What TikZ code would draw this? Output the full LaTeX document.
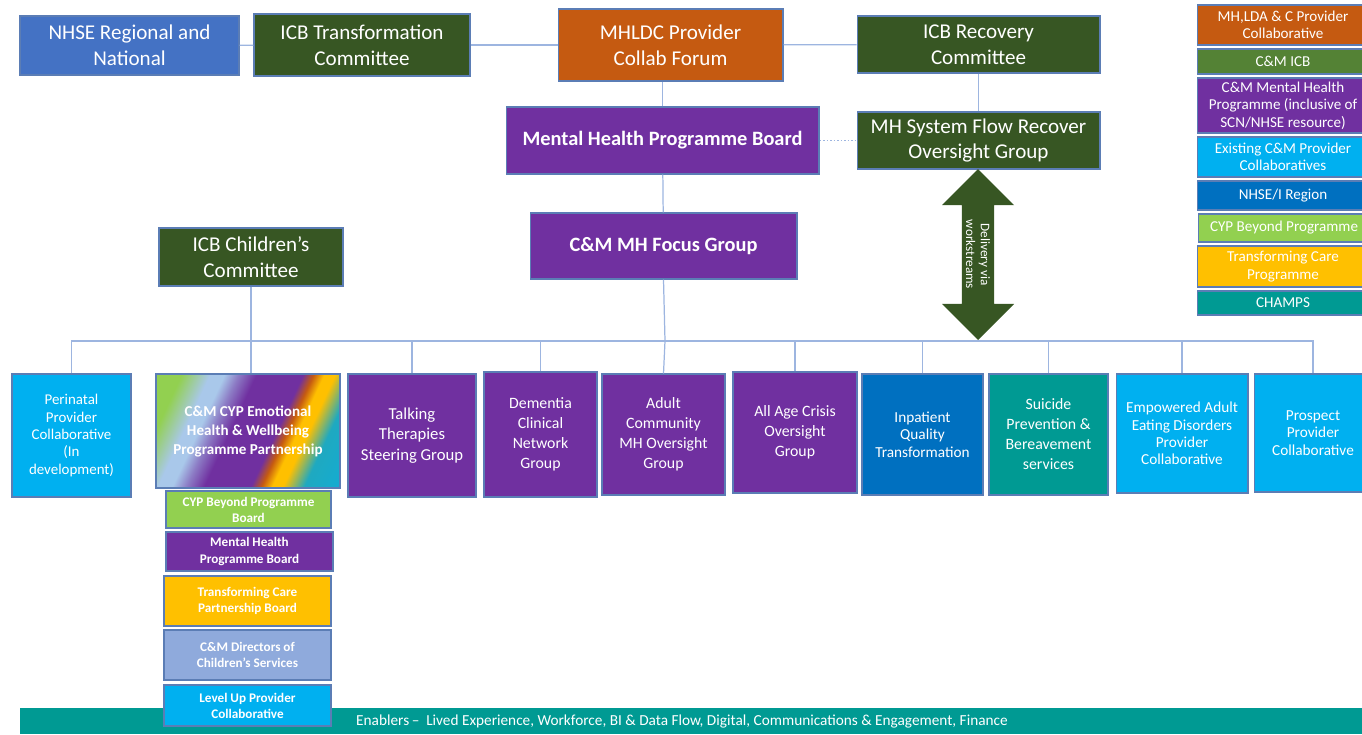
\documentclass[tikz,border=0pt]{standalone}
\usepackage{fontspec}
\setmainfont{Carlito}
\usetikzlibrary{shapes.arrows, positioning}

\definecolor{nhseblue}{HTML}{4472C4}
\definecolor{icbgreen}{HTML}{375623}
\definecolor{collaborange}{HTML}{C55A11}
\definecolor{mhpurple}{HTML}{7030A0}
\definecolor{provblue}{HTML}{00B0F0}
\definecolor{regionblue}{HTML}{0070C0}
\definecolor{champsteal}{HTML}{009A93}
\definecolor{cmicbgreen}{HTML}{548235}
\definecolor{beyondgreen}{HTML}{92D050}
\definecolor{careyellow}{HTML}{FFC000}
\definecolor{dirblue}{HTML}{8FAADC}
\definecolor{paleblue}{HTML}{A9C8EA}
\definecolor{rainbowteal}{HTML}{1FA9C0}
\definecolor{linkblue}{HTML}{9DB5E0}
\definecolor{boxline}{HTML}{5B7DB5}

% rainbow fill of the children and young people partnership
\pgfdeclarehorizontalshading{cyprainbow}{100bp}{
  color(0bp)=(beyondgreen); color(24bp)=(beyondgreen);
  color(32bp)=(paleblue); color(36bp)=(paleblue);
  color(40bp)=(paleblue!50!mhpurple); color(45bp)=(mhpurple);
  color(58bp)=(mhpurple); color(61bp)=(collaborange);
  color(64bp)=(careyellow); color(67bp)=(careyellow);
  color(73bp)=(rainbowteal); color(100bp)=(provblue)}

\begin{document}
\begin{tikzpicture}[x=0.02cm, y=-0.02cm,
    % Node styles
    topbox/.style={rectangle, draw=boxline, line width=0.6pt, text=white,
                   align=center, font=\fontsize{12}{14.7}\selectfont},
    boldbox/.style={rectangle, draw=boxline, line width=0.6pt, fill=mhpurple, text=white,
                    align=center, font=\fontsize{11.6}{13}\selectfont\bfseries},
    workbox/.style={rectangle, draw=boxline, line width=0.6pt, text=white,
                    align=center, minimum height=2.42cm, font=\fontsize{9}{11.4}\selectfont},
    smallbox/.style={rectangle, draw=boxline, line width=0.6pt, text=white,
                     align=center, minimum height=2.4cm, font=\fontsize{8.7}{9.9}\selectfont},
    stackbox/.style={rectangle, draw=boxline, line width=0.6pt, text=white,
                     align=center, minimum width=3.34cm, inner sep=1pt,
                     font=\fontsize{7.5}{9.2}\selectfont\bfseries},
    keybox/.style={rectangle, draw=boxline, line width=0.6pt, text=white,
                   align=center, minimum width=3.44cm, inner sep=1pt,
                   font=\fontsize{8.6}{9.9}\selectfont},
    flowarrow/.style={double arrow, fill=icbgreen, text=white, rotate=-90,
                      minimum height=3.42cm, minimum width=1.44cm,
                      double arrow head extend=0.37cm, inner xsep=0pt, inner ysep=1.5pt,
                      align=center, font=\fontsize{7.5}{8.5}\selectfont},
    link/.style={draw=linkblue, line width=0.7pt}
]
\useasboundingbox (0,0) rectangle (1362,734);

% Top row
\node[topbox, fill=nhseblue, minimum width=4.38cm, minimum height=1.18cm] (nhse) at (129.5,45.5) {NHSE Regional and\\National};
\node[topbox, fill=icbgreen, minimum width=4.32cm, minimum height=1.24cm] (icbt) at (362,45) {ICB Transformation\\Committee};
\node[topbox, fill=collaborange, minimum width=4.5cm, minimum height=1.44cm] (mhldc) at (670.5,45) {MHLDC Provider\\Collab Forum};
\node[topbox, fill=icbgreen, minimum width=4.86cm, minimum height=1.14cm] (icbr) at (978.5,44.5) {ICB Recovery\\Committee};

% Programme board and recovery group
\node[boldbox, minimum width=6.26cm, minimum height=1.34cm] (mhpb) at (662.5,140.5) {Mental Health Programme Board};
\node[topbox, fill=icbgreen, minimum width=4.86cm, minimum height=1.14cm] (flow) at (978.5,140.5) {MH System Flow Recover\\Oversight Group};

% Focus group and children's committee
\node[boldbox, minimum width=5.34cm, minimum height=1.32cm] (focus) at (663.5,246) {C\&M MH Focus Group};
\node[topbox, fill=icbgreen, minimum width=3.68cm, minimum height=1.16cm] (children) at (251,257) {ICB Children's\\Committee};

% Delivery arrow
\node[flowarrow] (delivery) at (978,254.5) {Delivery via\\workstreams};

% Workstreams
\node[workbox, fill=provblue, minimum width=2.38cm, minimum height=2.46cm, font=\fontsize{8.5}{9.9}\selectfont] (perinatal) at (71.5,435.5) {Perinatal\\Provider\\Collaborative\\(In\\development)};
\node[workbox, shading=cyprainbow, shading angle=-25, minimum width=3.68cm, minimum height=2.28cm, font=\fontsize{8.6}{10.8}\selectfont\bfseries] (cyp) at (248,431) {C\&M CYP Emotional\\Health \& Wellbeing\\Programme Partnership};
\node[workbox, fill=mhpurple, minimum width=2.56cm, minimum height=2.46cm, font=\fontsize{9.5}{11.6}\selectfont] (talking) at (412,435.5) {Talking\\Therapies\\Steering Group};
\node[workbox, fill=mhpurple, minimum width=2.26cm, minimum height=2.5cm] (dementia) at (540.5,434.5) {Dementia\\Clinical\\Network\\Group};
\node[workbox, fill=mhpurple, minimum width=2.46cm] (adult) at (663.5,434.5) {Adult\\Community\\MH Oversight\\Group};
\node[workbox, fill=mhpurple, minimum width=2.48cm] (crisis) at (795,432.5) {All Age Crisis\\Oversight\\Group};
\node[smallbox, fill=regionblue, minimum width=2.42cm, minimum height=2.42cm] (inpatient) at (922.5,434.5) {Inpatient\\Quality\\Transformation};
\node[workbox, fill=champsteal, minimum width=2.38cm] (suicide) at (1048.5,434.5) {Suicide\\Prevention \&\\Bereavement\\services};
\node[smallbox, fill=provblue, minimum width=2.64cm, minimum height=2.38cm] (empowered) at (1182,433.5) {Empowered Adult\\Eating Disorders\\Provider\\Collaborative};
\node[smallbox, fill=provblue, minimum width=2.36cm, minimum height=2.36cm] (prospect) at (1313,433) {Prospect\\Provider\\Collaborative};

% Enablers
\node[rectangle, fill=champsteal, text=white, minimum width=26.84cm, minimum height=0.52cm,
      font=\fontsize{8.7}{9}\selectfont] (enablers) at (691,721) {Enablers\,--\ \ Lived Experience, Workforce, BI \& Data Flow, Digital, Communications \& Engagement, Finance\hspace*{0.36cm}};

% Children and young people boards
\node[stackbox, fill=beyondgreen, minimum width=3.3cm, minimum height=0.74cm] (beyond) at (248.5,509.5) {CYP Beyond Programme\\Board};
\node[stackbox, fill=mhpurple, minimum height=0.78cm] (mhboard) at (249.5,551.5) {Mental Health\\Programme Board};
\node[stackbox, fill=careyellow, minimum height=1cm] (tcpboard) at (247.5,601) {Transforming Care\\Partnership Board};
\node[stackbox, fill=dirblue, minimum height=1cm] (directors) at (247.5,655) {C\&M Directors of\\Children's Services};
\node[stackbox, fill=provblue, minimum height=0.82cm] (levelup) at (247.5,705.5) {Level Up Provider\\Collaborative};

% Key
\node[keybox, fill=collaborange, minimum height=0.8cm] (keyforum) at (1283,25) {MH,LDA \& C Provider\\Collaborative};
\node[keybox, fill=cmicbgreen, minimum height=0.5cm] (keyicb) at (1283,61.5) {C\&M ICB};
\node[keybox, fill=mhpurple, minimum height=1.1cm] (keyprog) at (1283,105.5) {C\&M Mental Health\\Programme (inclusive of\\SCN/NHSE resource)};
\node[keybox, fill=provblue, minimum height=0.8cm] (keyprov) at (1283,157) {Existing C\&M Provider\\Collaboratives};
\node[keybox, fill=regionblue, minimum height=0.58cm] (keyregion) at (1283,195.5) {NHSE/I Region};
\node[keybox, fill=beyondgreen, minimum height=0.56cm] (keybeyond) at (1284,228) {CYP Beyond Programme};
\node[keybox, fill=careyellow, minimum height=0.82cm] (keycare) at (1283,266.5) {Transforming Care\\Programme};
\node[keybox, fill=champsteal, minimum height=0.48cm] (keychamps) at (1283,303) {CHAMPS};

% Links
\draw[link] (nhse) -- (icbt);
\draw[link] (icbt) -- (mhldc);
\draw[link] (mhldc) -- (icbr);
\draw[link] (mhpb.north) -- (mhpb.north |- mhldc.south);
\draw[link] (mhpb) -- (focus);
\draw[link] (icbr) -- (flow);
\draw[link, line width=1pt, densely dotted] (mhpb) -- (flow);
\draw[link] (children.south) -- (children.south |- cyp.north);

% Workstream bus
\coordinate (bus) at (665,341);
\draw[link] (focus.south) -- (bus) -- (adult.north);
\draw[link] (perinatal.north) |- (bus);
\draw[link] (talking.north) |- (bus);
\draw[link] (dementia.north) |- (bus);
\draw[link] (crisis.north) |- (bus);
\draw[link] (inpatient.north) |- (bus);
\draw[link] (suicide.north) |- (bus);
\draw[link] (empowered.north) |- (bus);
\draw[link] (prospect.north) |- (bus);

\end{tikzpicture}
\end{document}
